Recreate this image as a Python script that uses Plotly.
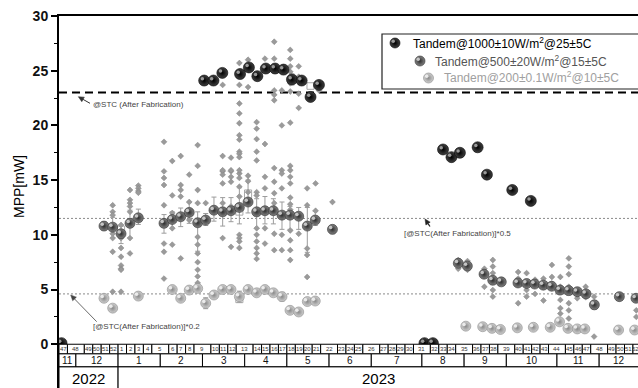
import math
import plotly.graph_objects as go

FONT = "Liberation Sans, Arial, sans-serif"
STC = 23.0  # MPP at STC after fabrication [mW]

# ---- time axis: one slot per week, weeks spanning two months take two slots ----
year_labels = ["2022", "2023"]
year_slots = [7, 62]
month_labels = ["11", "12", "1", "2", "3", "4", "5", "6", "7", "8", "9", "10", "11", "12"]
month_slots = [2, 5, 5, 5, 5, 5, 5, 5, 6, 5, 5, 6, 5, 5]
week_labels = ["47", "48", "49", "50", "51", "52",
               "1", "2", "3", "4", "5", "6", "7", "8", "9", "10", "11", "12", "13",
               "14", "15", "16", "17", "18", "19", "20", "21", "22", "23", "24", "25",
               "26", "27", "28", "29", "30", "31", "32", "33", "34", "35", "36", "37",
               "38", "39", "40", "41", "42", "43", "44", "45", "46", "47", "48", "49",
               "50", "51", "52"]
week_slots = [1, 2, 1, 1, 1, 1,
              1, 1, 1, 1, 2, 1, 1, 1, 2, 1, 1, 1, 2,
              1, 1, 1, 1, 1, 1, 1, 1, 2, 1, 1, 1,
              2, 1, 1, 1, 1, 2, 1, 1, 1, 2, 1, 1,
              1, 2, 1, 1, 1, 1, 2, 1, 1, 1, 2, 1,
              1, 1, 1]

# ---- Tandem @1000 W/m2 (mean) ----
t1000_x = [0.3, 17.2, 18.3, 19.35, 21.45, 22.5, 23.5, 24.5, 25.6, 26.6, 27.6, 28.75, 29.8, 30.8,
           43.3, 44.3, 45.5, 46.5, 47.5, 49.6, 50.7, 53.7, 55.9]
t1000_y = [0.1, 24.1, 24.1, 24.8, 24.7, 25.3, 24.5, 25.2, 25.2, 25.1, 24.2, 24.1, 22.6, 23.7,
           0.1, 0.1, 17.8, 17.1, 17.5, 18.0, 15.5, 14.1, 13.1]
t1000_err = [0, 0, 0, 0, 0, 0, 0.3, 0, 0.4, 0.4, 0.5, 0, 0, 0.3,
             0, 0, 0, 0, 0.3, 0, 0, 0, 0]

# ---- Tandem @500 W/m2 (mean) ----
t500_x = [5.33, 6.36, 7.35, 8.41, 9.4, 12.44, 13.42, 14.42, 15.43, 16.43, 17.38, 18.36, 19.39,
          20.38, 21.37, 22.4, 23.42, 24.4, 25.4, 26.42, 27.37, 28.4, 29.42, 30.36, 32.4,
          47.31, 48.38, 50.36, 51.39, 52.4, 54.38, 55.41, 56.36, 57.38, 58.37, 59.36, 60.39,
          61.41, 62.44, 63.43, 66.39, 68.36]
t500_y = [10.8, 10.7, 10.1, 11.05, 11.55, 11.05, 11.4, 11.65, 12.05, 11.1, 11.35, 12.25, 12.1,
          12.2, 12.5, 13.0, 12.1, 12.2, 12.2, 11.8, 11.8, 11.7, 10.8, 11.35, 10.5,
          7.4, 7.15, 6.4, 5.85, 5.7, 5.6, 5.55, 5.5, 5.4, 5.3, 4.95, 4.9,
          4.8, 4.6, 3.6, 4.35, 4.2]
t500_err_plus = [0.4, 0.9, 0.8, 1.2, 0.8, 0.8, 0.7, 0.8, 0.9, 1.0, 0.6, 1.2, 1.3,
                 1.2, 1.8, 2.0, 1.2, 1.3, 1.1, 1.2, 0.8, 0.8, 1.7, 0.8, 0.3,
                 0.4, 0.3, 0.3, 0.3, 0.2, 0.3, 0.3, 0.2, 0.2, 0.3, 0.3, 0.3,
                 0.3, 0.2, 0.4, 0.2, 0.2]
t500_err_minus = [0.4, 1.0, 0.9, 1.3, 0.6, 0.9, 0.8, 0.9, 1.0, 2.6, 0.5, 1.0, 1.3,
                  1.0, 1.5, 1.0, 1.5, 1.2, 1.2, 1.3, 1.3, 1.2, 2.4, 0.5, 0.4,
                  0.4, 0.4, 0.3, 0.4, 0.3, 0.3, 0.3, 0.3, 0.3, 0.3, 0.4, 0.4,
                  0.3, 0.3, 0.4, 0.3, 0.3]

# ---- Tandem @200 W/m2 (mean) ----
t200_x = [5.33, 6.36, 9.4, 13.42, 14.42, 15.43, 16.43, 17.38, 18.36, 19.39, 20.38, 21.37, 22.4,
          23.42, 24.4, 25.4, 26.42, 27.37, 28.4, 29.42, 30.36,
          48.2, 50.2, 51.3, 52.3, 54.3, 56.2, 58.2, 59.3, 60.3, 61.4, 62.3, 66.3, 68.2]
t200_y = [4.2, 3.3, 4.4, 5.0, 4.2, 4.95, 5.1, 3.75, 4.5, 5.0, 5.0, 4.35, 5.0,
          4.7, 5.0, 4.7, 4.35, 3.1, 2.95, 3.9, 3.95,
          1.65, 1.6, 1.45, 1.35, 1.5, 1.55, 1.55, 2.05, 1.45, 1.4, 1.4, 1.3, 1.3]
t200_err = [0, 0, 0, 0.2, 0.3, 0, 0, 0.5, 0, 0, 0, 0.5, 0,
            0.3, 0, 0.3, 0.4, 0.3, 0.3, 0.3, 0,
            0, 0, 0, 0, 0, 0, 0, 0.3, 0, 0, 0, 0, 0]

# ---- box (interquartile) outlines of a few weeks ----
box_x = [7.35, 21.37, 22.4, 29.8, 21.37]
box_lo = [10.0, 11.8, 13.1, 23.3, 3.8]
box_hi = [10.8, 12.4, 14.1, 23.9, 4.6]

# ---- individual measurements (raw) ----
raw_col_x = [6.36, 7.35, 8.41, 9.4, 12.44, 13.42, 14.42, 15.43, 16.43, 17.38, 19.39, 20.38,
             21.37, 22.4, 23.42, 24.4, 25.5, 26.4, 27.4, 28.4, 29.4, 30.4, 30.8, 32.4,
             47.3, 48.4, 50.4, 51.4, 54.4, 55.4, 56.4, 57.4, 58.4, 59.4, 60.4, 61.4,
             62.4, 63.4, 68.4]
raw_col_y = [[12.7, 12.1, 11.8, 10.1, 9.7, 8.45, 4.8],
             [10.9, 9.7, 8.8, 8.0, 7.2, 6.9, 6.8, 4.8],
             [14.1, 13.2, 12.9, 12.6, 12.1, 9.7, 8.3],
             [14.5, 14.25, 14.0, 13.85],
             [18.5, 15.8, 15.2, 14.55, 12.7, 9.2, 8.45, 6.0],
             [16.75, 13.6, 12.0, 10.6, 9.1, 5.1],
             [17.2, 14.55, 14.1, 13.5, 7.85],
             [15.5, 13.0, 11.35, 4.8],
             [18.2, 16.3, 14.1, 12.9, 9.8, 9.1, 8.3, 7.5, 6.8, 6.2, 5.6, 5.3],
             [12.9],
             [23.7, 17.2, 15.8, 15.5, 15.9, 14.7, 12.9, 9.7],
             [17.05, 15.8, 15.3, 15.9, 14.85, 12.6, 8.9],
             [25.7, 23.7, 22.0, 21.1, 20.2, 19.1, 18.7, 17.6, 17.4, 17.1, 15.6, 15.9, 15.2,
              14.4, 13.5, 10.0, 9.7, 9.4, 8.8],
             [26.0, 23.5, 15.4, 14.9, 13.9],
             [20.3, 19.7, 18.75, 17.6, 16.8, 13.9, 13.6, 10.6, 10.0, 9.4, 8.8, 8.3, 7.8],
             [26.1, 18.3, 15.3, 14.25, 10.6, 9.2],
             [27.65, 26.1, 25.3, 23.2, 22.8, 22.3, 16.1, 14.85, 13.8, 12.9, 10.1, 8.6],
             [23.2, 20.0, 15.9, 15.6, 14.25, 11.65, 10.0, 8.6],
             [26.9, 26.1, 25.4, 24.9, 23.85, 23.1, 20.25, 16.3, 15.9, 15.3, 14.7, 13.4, 12.8,
              12.3, 10.4, 9.5, 8.6, 7.7],
             [25.4, 24.45, 22.9, 21.6, 11.65, 10.1],
             [14.25, 12.7, 8.75, 8.15, 6.15],
             [14.7, 12.2],
             [23.2],
             [13.0],
             [7.7, 6.9], [7.6, 6.8], [6.9, 5.25], [7.7, 7.1, 6.5, 4.95, 4.35],
             [6.6, 6.0, 3.75], [6.5, 4.95, 4.35], [5.9, 4.6], [6.0, 4.0],
             [7.25, 6.15, 5.55], [6.15, 5.25, 4.05, 3.3, 2.8, 2.2],
             [7.85, 7.1, 6.4, 5.25, 3.75, 3.1, 2.35], [4.95, 4.2], [5.25, 4.3],
             [4.35, 0.7], [3.1, 2.5]]

legend_texts = ["Tandem@1000±10W/m<sup>2</sup>@25±5C",
                "Tandem@500±20W/m<sup>2</sup>@15±5C",
                "Tandem@200±0.1W/m<sup>2</sup>@10±5C"]

y_ticks = [0, 5, 10, 15, 20, 25, 30]
y_minor = [2.5, 7.5, 12.5, 17.5, 22.5, 27.5]

# ---- geometry ----
W, H = 638, 388
PLOT_L, PLOT_T = 59, 16
X_MAX = 68.6
Y_MIN, Y_MAX = -4, 30
slot_px = (W - PLOT_L) / X_MAX
unit_px = (H - PLOT_T) / (Y_MAX - Y_MIN)
HX, HY = -1.8 / slot_px, 1.8 / unit_px

raw_x, raw_y = [], []
for cx, ys in zip(raw_col_x, raw_col_y):
    for v in ys:
        raw_x.append(cx)
        raw_y.append(v)

STYLES = {
    "1000": dict(c="#404040", g="#000000", h="#b0b0b0", size=11),
    "500": dict(c="#828282", g="#2e2e2e", h="#d8d8d8", size=10),
    "200": dict(c="#cfcfcf", g="#8a8a8a", h="#f6f6f6", size=10),
}

fig = go.Figure()

fig.add_trace(go.Scatter(
    x=raw_x, y=raw_y, mode="markers",
    marker=dict(symbol="diamond", size=4.5, color="#9a9a9a",
                line=dict(width=0.5, color="#858585")),
    hoverinfo="skip"))


def spheres(xs, ys, st, err=None, xaxis="x", yaxis="y"):
    kw = {}
    if err is not None:
        kw["error_y"] = dict(type="data", array=err[0], arrayminus=err[1],
                             color="#9c9c9c", thickness=1, width=2.5)
    fig.add_trace(go.Scatter(
        x=xs, y=ys, mode="markers", xaxis=xaxis, yaxis=yaxis,
        marker=dict(size=st["size"], color=st["c"],
                    gradient=dict(type="radial", color=st["g"]),
                    line=dict(width=0.6, color=st["g"])), **kw))
    if xaxis == "x":
        hx = [v + HX for v in xs]
        hy = [v + HY for v in ys]
    else:
        hx = [v - 1.8 for v in xs]
        hy = [v - 1.8 for v in ys]
    fig.add_trace(go.Scatter(
        x=hx, y=hy, mode="markers", xaxis=xaxis, yaxis=yaxis,
        marker=dict(size=3.5, color=st["h"], opacity=0.85, line=dict(width=0)),
        hoverinfo="skip"))


shapes = []
annotations = []

# box outlines (drawn under the spheres)
for bx, lo, hi in zip(box_x, box_lo, box_hi):
    shapes.append(dict(type="rect", xref="x", yref="y", x0=bx - 0.42, x1=bx + 0.42, y0=lo, y1=hi,
                       line=dict(color="#a8a8a8", width=1), fillcolor="rgba(0,0,0,0)",
                       layer="below"))

spheres(t200_x, t200_y, STYLES["200"], (t200_err, t200_err))
spheres(t500_x, t500_y, STYLES["500"], (t500_err_plus, t500_err_minus))
spheres(t1000_x, t1000_y, STYLES["1000"], (t1000_err, t1000_err))

# legend keys in a full-figure pixel subplot
leg_px = [(395, 43), (420, 61), (428.5, 78)]
for (lx, ly), key in zip(leg_px, ["1000", "500", "200"]):
    st = dict(STYLES[key])
    st["size"] = 10
    spheres([lx], [ly], st, xaxis="x2", yaxis="y2")

# reference lines
shapes.append(dict(type="line", xref="x", yref="y", x0=0, x1=X_MAX, y0=STC, y1=STC,
                   line=dict(color="black", width=2, dash="8px,5px"), layer="below"))
for f in (0.5, 0.2):
    shapes.append(dict(type="line", xref="x", yref="y", x0=0, x1=X_MAX, y0=STC * f, y1=STC * f,
                       line=dict(color="#8a8a8a", width=1, dash="2px,2px"), layer="below"))

# time table below the axis
ROW_W = (0, -0.88)
ROW_M = (-0.88, -2.07)
ROW_Y = (-2.07, -4.3)


def table_row(labels, spans, row, size, yl, color):
    edge = 0
    for lab, sp in zip(labels, spans):
        x0, x1 = edge, edge + sp
        shapes.append(dict(type="rect", xref="x", yref="y", x0=x0, x1=x1, y0=row[1], y1=row[0],
                           line=dict(color="black", width=1), fillcolor="white", layer="above"))
        cx = (x0 + min(x1, X_MAX)) / 2
        annotations.append(dict(x=cx, y=yl, xref="x", yref="y", text=lab, showarrow=False,
                                font=dict(size=size, color=color, family=FONT)))
        edge = x1


table_row(week_labels, week_slots, ROW_W, 6, -0.44, "#333333")
table_row(month_labels, month_slots, ROW_M, 10, -1.47, "#111111")
table_row(year_labels, year_slots, ROW_Y, 15, -3.15, "#000000")

# reference-line annotations
ann_font = dict(size=8, color="#444444", family=FONT)
annotations += [
    dict(x=3.75, y=STC - 1.1, xref="x", yref="y", text="@STC (After Fabrication)",
         showarrow=False, xanchor="left", font=ann_font),
    dict(x=40.6, y=STC * 0.5 - 1.35, xref="x", yref="y", text="[@STC(After Fabrication)]*0.5",
         showarrow=False, xanchor="left", font=ann_font),
    dict(x=3.85, y=STC * 0.2 - 3.0, xref="x", yref="y", text="[@STC(After Fabrication)]*0.2",
         showarrow=False, xanchor="left", font=ann_font),
]


# pointer arrows (drawn as paper-space paths, in pixels)
def arrow(tail, tip, color, width, head_len=5.5, head_w=2.6):
    dx, dy = tip[0] - tail[0], tip[1] - tail[1]
    L = math.hypot(dx, dy)
    ux, uy = dx / L, dy / L
    bx, by = tip[0] - ux * head_len, tip[1] - uy * head_len
    nx, ny = -uy, ux
    P = lambda x, y: f"{x / W:.5f},{1 - y / H:.5f}"
    if L > head_len:
        shapes.append(dict(type="path", xref="paper", yref="paper",
                           path=f"M{P(*tail)} L{P(bx, by)}",
                           line=dict(color=color, width=width), layer="above"))
    shapes.append(dict(type="path", xref="paper", yref="paper",
                       path=(f"M{P(*tip)} L{P(bx + nx * head_w, by + ny * head_w)} "
                             f"L{P(bx - nx * head_w, by - ny * head_w)} Z"),
                       line=dict(color=color, width=0.5), fillcolor=color, layer="above"))


arrow((90, 103.3), (78.3, 96.7), "#333333", 1)
arrow((430, 226.5), (425, 219), "#222222", 1.2)
arrow((96.7, 321.7), (70.7, 295), "#444444", 0.8)

# legend box + texts
shapes.append(dict(type="rect", xref="paper", yref="paper", x0=382 / W, x1=1.02,
                   y0=1 - 89 / H, y1=1 - 34 / H, line=dict(color="#222222", width=1.2),
                   fillcolor="rgba(0,0,0,0)", layer="above"))
leg_text_px = [(411, 43, "#000000"), (433, 60.5, "#555555"), (441.5, 77.5, "#a0a0a0")]
for (tx, ty, tc), txt in zip(leg_text_px, legend_texts):
    annotations.append(dict(x=tx / W, y=1 - ty / H, xref="paper", yref="paper", text=txt,
                            showarrow=False, xanchor="left", yanchor="middle",
                            font=dict(size=12, color=tc, family=FONT)))

# y-axis title
annotations.append(dict(x=19 / W, y=1 - 187 / H, xref="paper", yref="paper", text="MPP[mW]",
                        textangle=-90, showarrow=False, xanchor="center", yanchor="middle",
                        font=dict(size=14, color="black", family=FONT)))

fig.update_layout(
    width=W, height=H, margin=dict(l=0, r=0, t=0, b=0),
    paper_bgcolor="white", plot_bgcolor="rgba(0,0,0,0)",
    showlegend=False, font=dict(family=FONT, color="black"),
    shapes=shapes, annotations=annotations,
    xaxis=dict(domain=[PLOT_L / W, 1], range=[0, X_MAX], side="top", anchor="y",
               showline=True, linecolor="black", linewidth=2, showticklabels=False,
               ticks="", showgrid=False, zeroline=False, fixedrange=True),
    yaxis=dict(domain=[0, 1 - PLOT_T / H], range=[Y_MIN, Y_MAX], anchor="x",
               showline=True, linecolor="black", linewidth=2,
               tickmode="array", tickvals=y_ticks, ticktext=[f"<b>{v}</b>" for v in y_ticks],
               ticks="outside", ticklen=6, tickwidth=1.5, tickcolor="black",
               tickfont=dict(size=14, family=FONT, color="#111111"),
               minor=dict(tickvals=y_minor, ticks="outside", ticklen=3, tickwidth=1,
                          tickcolor="black"),
               showgrid=False, zeroline=False, fixedrange=True, automargin=False),
    xaxis2=dict(domain=[0, 1], range=[0, W], visible=False, anchor="y2", fixedrange=True),
    yaxis2=dict(domain=[0, 1], range=[H, 0], visible=False, anchor="x2", fixedrange=True),
)

fig.write_html("out.html", config={"displayModeBar": False},
               post_script="document.body.style.margin='0px';document.body.style.overflow='hidden';")
